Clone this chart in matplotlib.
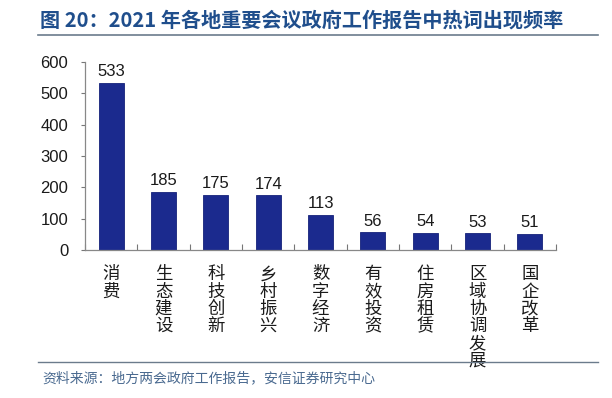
import matplotlib
matplotlib.use("Agg")
import matplotlib.pyplot as plt
from matplotlib.lines import Line2D

plt.rcParams['font.family'] = ['Liberation Sans', 'Noto Sans CJK SC', 'DejaVu Sans']

# données
categories = ["消费", "生态建设", "科技创新", "乡村振兴", "数字经济", "有效投资", "住房租赁", "区域协调发展", "国企改革"]
values = [533, 185, 175, 174, 113, 56, 54, 53, 51]
yticks = [0, 100, 200, 300, 400, 500, 600]

title = "图 20：2021 年各地重要会议政府工作报告中热词出现频率"
source = "资料来源：地方两会政府工作报告，安信证券研究中心"

W, H = 612, 398
fig = plt.figure(figsize=(W / 100, H / 100), dpi=100)
fig.patch.set_facecolor("white")

ax = fig.add_axes([85 / W, 1 - 250 / H, (556 - 85) / W, (250 - 62) / H])
x = list(range(len(categories)))
bars = ax.bar(x, values, width=0.48, color="#1b2a8e", edgecolor="#15227a", linewidth=0.6)

for bar, v in zip(bars, values):
    ax.text(bar.get_x() + bar.get_width() / 2, v + 12, str(v),
            ha="center", va="bottom", fontsize=12, color="#1a1a1a")

ax.set_xlim(-0.5, len(categories) - 0.5)
ax.set_ylim(0, 600)
ax.set_yticks(yticks)
ax.tick_params(axis="y", labelsize=12, length=3, width=0.8, color="#777777", pad=9, labelcolor="#1a1a1a")

# libellés verticaux (un caractère par ligne)
ax.set_xticks(x)
ax.set_xticklabels(["\n".join(c) for c in categories], fontsize=12.5,
                   family=['Noto Sans CJK SC', 'DejaVu Sans'], va="top", linespacing=0.95)
ax.tick_params(axis="x", length=0, pad=11, labelcolor="#1a1a1a")
ax.set_xticks([i + 0.5 for i in range(-1, len(categories))], minor=True)
ax.tick_params(axis="x", which="minor", direction="in", length=4, width=0.8, color="#777777")

for s in ["top", "right"]:
    ax.spines[s].set_visible(False)
for s in ["left", "bottom"]:
    ax.spines[s].set_color("#888888")
    ax.spines[s].set_linewidth(0.9)

# titre + lignes
fig.text(40 / W, 1 - 20 / H, title, fontsize=14.5, fontweight="bold", color="#1f4e8c",
         va="center", ha="left", family=['Noto Sans CJK SC', 'DejaVu Sans'])
fig.add_artist(Line2D([38 / W, 598 / W], [1 - 35 / H, 1 - 35 / H], color="#6b7b8c", linewidth=1.2))
fig.add_artist(Line2D([38 / W, 598 / W], [1 - 362 / H, 1 - 362 / H], color="#6b7b8c", linewidth=1.0))
fig.text(42 / W, 1 - 378 / H, source, fontsize=10, color="#4a6a90", style="italic",
         va="center", ha="left", family=['Noto Sans CJK SC', 'DejaVu Sans'])

plt.savefig("out.png", dpi=100)
